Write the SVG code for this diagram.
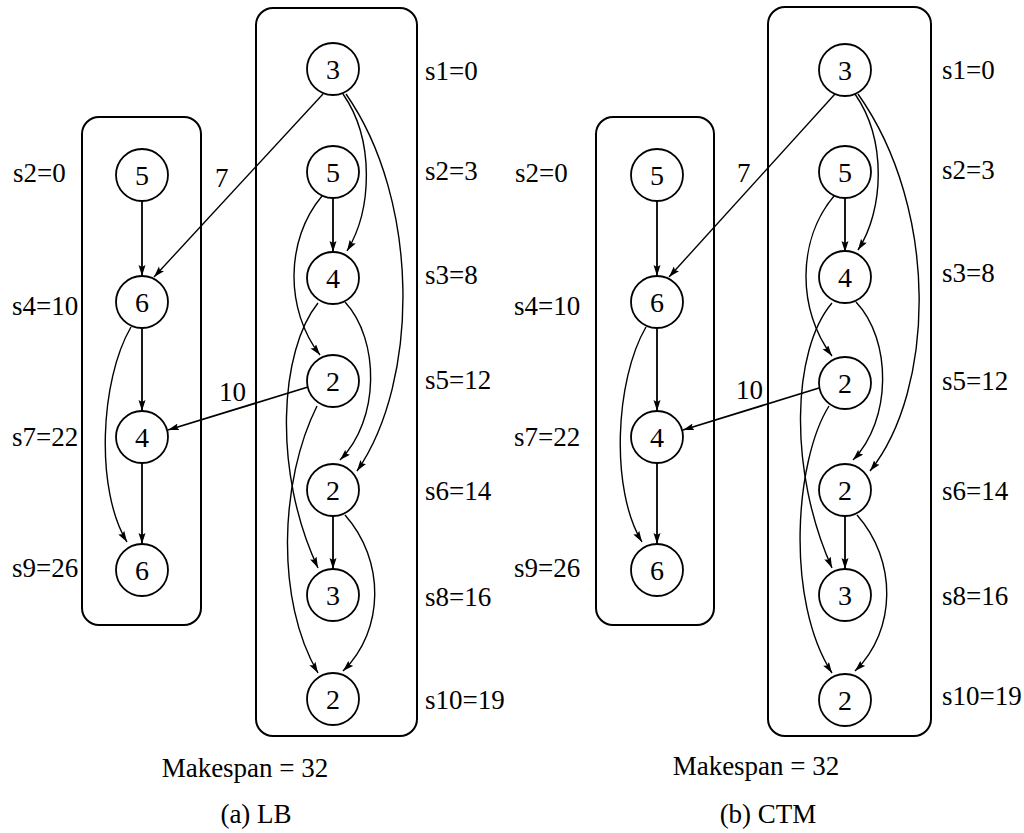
<svg xmlns="http://www.w3.org/2000/svg" width="1024" height="833" viewBox="0 0 1024 833">
<style>
.box{fill:none;stroke:#000;stroke-width:2}
.nd circle{fill:#fff;stroke:#000;stroke-width:1.8}
.e{fill:none;stroke:#000;stroke-width:1.4;marker-end:url(#ah)}
.es{fill:none;stroke:#000;stroke-width:1.8;marker-end:url(#ah)}
</style>
<defs>
<marker id="ah" markerUnits="userSpaceOnUse" markerWidth="12" markerHeight="8" refX="11" refY="3.5" orient="auto">
<path d="M0,0 L11,3.5 L0,7 L2,3.5 z" fill="#000"/>
</marker>
</defs>
<rect fill="#fff" width="1024" height="833"/>
<g font-family="Liberation Serif, DejaVu Serif, serif" fill="#000">

<!-- Panel (a) -->
<g id="a-boxes">
<rect class="box" x="82" y="117" width="119" height="508" rx="17"/>
<rect class="box" x="256" y="8" width="161" height="728" rx="17"/>
</g>
<g id="a-connectors">
<path class="es" d="M142,201 L142,276"/>
<path class="es" d="M142,328 L142,411"/>
<path class="es" d="M142,463 L142,544"/>
<path class="e" d="M131,327 C100,380 95,490 127,542"/>
<path class="e" d="M323,94 L154,277"/>
<path class="es" d="M308,387 L168,430"/>
<path class="es" d="M333,198 L333,252"/>
<path class="es" d="M333,516 L333,569"/>
<path class="e" d="M343,94 C375,140 372,210 347,251"/>
<path class="e" d="M346,94 C420,200 420,380 357,471"/>
<path class="e" d="M322,196 C285,240 285,310 320,355"/>
<path class="e" d="M345,302 C380,340 380,420 340,460"/>
<path class="e" d="M318,303 C280,350 272,470 318,568"/>
<path class="e" d="M317,406 C280,480 275,600 318,673"/>
<path class="e" d="M345,515 C385,560 385,630 343,671"/>
<text font-size="27" x="215" y="187">7</text>
<text font-size="27" x="219" y="401">10</text>
</g>
<g font-size="28" text-anchor="middle">
<g id="a-L1" class="nd"><circle cx="142" cy="175" r="26"/><text x="142" y="185">5</text></g>
<g id="a-L2" class="nd"><circle cx="142" cy="302" r="26"/><text x="142" y="312">6</text></g>
<g id="a-L3" class="nd"><circle cx="142" cy="437" r="26"/><text x="142" y="447">4</text></g>
<g id="a-L4" class="nd"><circle cx="142" cy="570" r="26"/><text x="142" y="580">6</text></g>
<g id="a-R1" class="nd"><circle cx="333" cy="69" r="26"/><text x="333" y="79">3</text></g>
<g id="a-R2" class="nd"><circle cx="333" cy="172" r="26"/><text x="333" y="182">5</text></g>
<g id="a-R3" class="nd"><circle cx="333" cy="278" r="26"/><text x="333" y="288">4</text></g>
<g id="a-R4" class="nd"><circle cx="333" cy="381" r="26"/><text x="333" y="391">2</text></g>
<g id="a-R5" class="nd"><circle cx="333" cy="490" r="26"/><text x="333" y="500">2</text></g>
<g id="a-R6" class="nd"><circle cx="333" cy="595" r="26"/><text x="333" y="605">3</text></g>
<g id="a-R7" class="nd"><circle cx="333" cy="699" r="26"/><text x="333" y="709">2</text></g>
</g>
<g id="a-labels" font-size="27">
<text x="13" y="182">s2=0</text>
<text x="12" y="315">s4=10</text>
<text x="12" y="446">s7=22</text>
<text x="12" y="577">s9=26</text>
<text x="425" y="80">s1=0</text>
<text x="425" y="180">s2=3</text>
<text x="425" y="284">s3=8</text>
<text x="425" y="389">s5=12</text>
<text x="425" y="500">s6=14</text>
<text x="425" y="606">s8=16</text>
<text x="425" y="709">s10=19</text>
<text text-anchor="middle" x="245" y="777">Makespan = 32</text>
<text text-anchor="middle" x="256" y="823">(a) LB</text>
</g>

<!-- Panel (b) -->
<g id="b-boxes">
<rect class="box" x="596" y="117" width="118" height="508" rx="17"/>
<rect class="box" x="768" y="7" width="163" height="729" rx="17"/>
</g>
<g id="b-connectors">
<path class="es" d="M657,201 L657,276"/>
<path class="es" d="M657,328 L657,411"/>
<path class="es" d="M657,463 L657,544"/>
<path class="e" d="M646,327 C615,380 610,490 642,542"/>
<path class="e" d="M835,94 L669,277"/>
<path class="es" d="M819,388 L683,430"/>
<path class="es" d="M845,198 L845,252"/>
<path class="es" d="M845,516 L845,569"/>
<path class="e" d="M855,94 C887,140 884,210 858,250"/>
<path class="e" d="M858,94 C940,210 935,390 870,471"/>
<path class="e" d="M834,196 C797,240 797,310 832,356"/>
<path class="e" d="M856,302 C892,340 892,420 853,460"/>
<path class="e" d="M832,303 C792,350 788,470 832,568"/>
<path class="e" d="M829,406 C795,460 785,600 832,673"/>
<path class="e" d="M857,515 C897,560 897,630 855,671"/>
<text font-size="27" x="737" y="182">7</text>
<text font-size="27" x="736" y="399">10</text>
</g>
<g font-size="28" text-anchor="middle">
<g id="b-L1" class="nd"><circle cx="657" cy="175" r="26"/><text x="657" y="185">5</text></g>
<g id="b-L2" class="nd"><circle cx="657" cy="302" r="26"/><text x="657" y="312">6</text></g>
<g id="b-L3" class="nd"><circle cx="657" cy="437" r="26"/><text x="657" y="447">4</text></g>
<g id="b-L4" class="nd"><circle cx="657" cy="570" r="26"/><text x="657" y="580">6</text></g>
<g id="b-R1" class="nd"><circle cx="845" cy="70" r="26"/><text x="845" y="80">3</text></g>
<g id="b-R2" class="nd"><circle cx="845" cy="172" r="26"/><text x="845" y="182">5</text></g>
<g id="b-R3" class="nd"><circle cx="845" cy="277" r="26"/><text x="845" y="287">4</text></g>
<g id="b-R4" class="nd"><circle cx="845" cy="383" r="26"/><text x="845" y="393">2</text></g>
<g id="b-R5" class="nd"><circle cx="845" cy="490" r="26"/><text x="845" y="500">2</text></g>
<g id="b-R6" class="nd"><circle cx="845" cy="595" r="26"/><text x="845" y="605">3</text></g>
<g id="b-R7" class="nd"><circle cx="845" cy="700" r="26"/><text x="845" y="710">2</text></g>
</g>
<g id="b-labels" font-size="27">
<text x="515" y="182">s2=0</text>
<text x="514" y="315">s4=10</text>
<text x="514" y="446">s7=22</text>
<text x="514" y="577">s9=26</text>
<text x="942" y="79">s1=0</text>
<text x="942" y="179">s2=3</text>
<text x="942" y="282">s3=8</text>
<text x="942" y="390">s5=12</text>
<text x="942" y="500">s6=14</text>
<text x="942" y="605">s8=16</text>
<text x="942" y="705">s10=19</text>
<text text-anchor="middle" x="756" y="775">Makespan = 32</text>
<text text-anchor="middle" x="768" y="823">(b) CTM</text>
</g>
</g>
</svg>
